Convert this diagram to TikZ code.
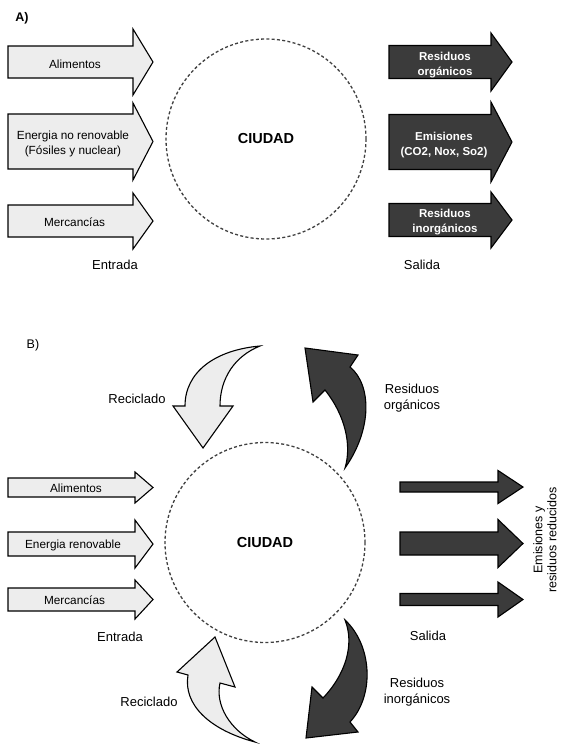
\documentclass[tikz,border=0pt]{standalone}
\usepackage{fontspec}
\setmainfont{Liberation Sans}
\definecolor{lightfill}{HTML}{EDEDED}
\definecolor{darkfill}{HTML}{3B3B3B}
\newcommand\myflatarrow[7]{%
  \draw[#1] ({#2},{#5-#6}) -- ({#3},{#5-#6}) -- ({#3},{#5-#7}) -- ({#4},{#5})
    -- ({#3},{#5+#7}) -- ({#3},{#5+#6}) -- ({#2},{#5+#6}) -- cycle;}
\tikzset{
  lightarrow/.style={draw=black, line width=1.1pt, fill=lightfill, line join=miter},
  darkarrow/.style={draw=black, line width=1.1pt, fill=darkfill, line join=miter},
  city/.style={circle, draw=gray!50!black, dash pattern=on 3pt off 2.3pt, line width=1.3pt,
    minimum size=200pt, inner sep=0pt, font=\bfseries\fontsize{14.5}{17}\selectfont},
  lbl/.style={font=\fontsize{11.8}{15}\selectfont, align=center, inner sep=0pt},
  wlbl/.style={font=\bfseries\fontsize{11.5}{15.5}\selectfont, text=white, align=center, inner sep=0pt},
  biglbl/.style={font=\fontsize{13}{16}\selectfont, align=center, inner sep=0pt},
  paneltag/.style={font=\fontsize{12.5}{15}\selectfont, inner sep=0pt},
}
\begin{document}
\begin{tikzpicture}[x=1pt,y=-1pt]
\fill[white] (0,0) rectangle (561,744);
\useasboundingbox (0,0) rectangle (561,744);

% ---------------- Panel A ----------------
\node[paneltag, font=\bfseries\fontsize{12.5}{15}\selectfont] (tagA) at (22,18) {A)};

\myflatarrow{lightarrow}{8}{133}{153}{62}{16}{33}
\myflatarrow{lightarrow}{8}{133}{153}{141.5}{27.5}{38.5}
\myflatarrow{lightarrow}{8}{133}{153}{221}{16}{28}
\node[lbl] (inA1) at (75,64) {Alimentos};
\node[lbl] (inA2) at (73,144) {Energia no renovable\\(Fósiles y nuclear)};
\node[lbl] (inA3) at (74.5,222) {Mercancías};

\node[city] (cityA) at (266,139) {CIUDAD};

\myflatarrow{darkarrow}{389}{491}{512}{62}{16.5}{29}
\myflatarrow{darkarrow}{389}{491}{512}{142}{27.5}{40}
\myflatarrow{darkarrow}{389}{491}{512}{220}{16.5}{28}
\node[wlbl] (outA1) at (445,65) {Residuos\\orgánicos};
\node[wlbl] (outA2) at (444,145) {Emisiones\\(CO2, Nox, So2)};
\node[wlbl] (outA3) at (445,222) {Residuos\\inorgánicos};

\node[biglbl] (entA) at (115,265) {Entrada};
\node[biglbl] (salA) at (422,265) {Salida};

% ---------------- Panel B ----------------
\node[paneltag] (tagB) at (33,345) {B)};

\myflatarrow{lightarrow}{8}{135}{153}{487.5}{9.5}{15.5}
\myflatarrow{lightarrow}{8}{135}{153}{544}{12}{24}
\myflatarrow{lightarrow}{8}{135}{153}{599.5}{11.5}{19.5}
\node[lbl] (inB1) at (76,488) {Alimentos};
\node[lbl] (inB2) at (73,545) {Energia renovable};
\node[lbl] (inB3) at (74.5,600) {Mercancías};

\node[city] (cityB) at (265,542.5) {CIUDAD};

\myflatarrow{darkarrow}{400}{498}{523}{487}{5}{16.5}
\myflatarrow{darkarrow}{400}{498}{523}{543.5}{11.5}{24}
\myflatarrow{darkarrow}{400}{498}{523}{599.5}{6}{17.5}

\node[lbl, font=\fontsize{12.5}{14}\selectfont, rotate=90] (emis) at (545,540) {Emisiones y\\residuos reducidos};

\node[biglbl] (entB) at (120,637) {Entrada};
\node[biglbl] (salB) at (428,636) {Salida};

% curved arrows
\draw[lightarrow] (260,346) .. controls (215,350) and (185,372) .. (185,406)
  -- (173,406) -- (203,448) -- (233,406) -- (220,406)
  .. controls (220,378) and (235,356) .. (260,346) -- cycle;
\node[biglbl] (recTop) at (137,399) {Reciclado};

\draw[darkarrow] (345,468) .. controls (372,430) and (372,385) .. (350,367)
  -- (358,355) -- (305,348) -- (313,402) -- (325,390)
  .. controls (345,415) and (352,445) .. (345,468) -- cycle;
\node[biglbl] (orgB) at (412,398) {Residuos\\orgánicos};

\draw[lightarrow] (255,742) .. controls (210,730) and (183,705) .. (188,675)
  -- (177,672) -- (215,637) -- (235,687) -- (220,683)
  .. controls (215,705) and (230,730) .. (255,742) -- cycle;
\node[biglbl] (recBot) at (149,702) {Reciclado};

\draw[darkarrow] (345,620) .. controls (372,645) and (375,695) .. (350,722)
  -- (358,732) -- (306,738) -- (312,687) -- (323,698)
  .. controls (345,675) and (355,645) .. (345,620) -- cycle;
\node[biglbl] (inorgB) at (417,692) {Residuos\\inorgánicos};
\end{tikzpicture}
\end{document}
